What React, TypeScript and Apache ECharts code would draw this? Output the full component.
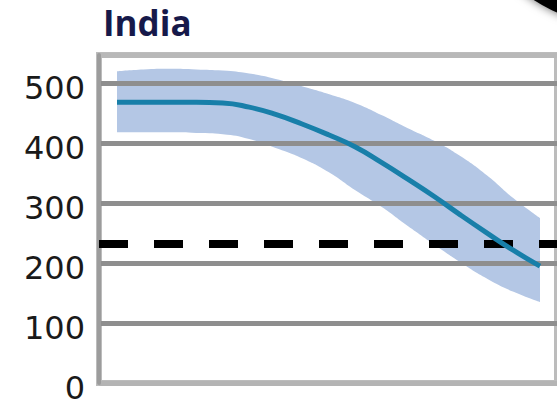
import React, { useEffect, useRef } from "react";
import * as echarts from "echarts";

const years = [
  "2010", "2012.5", "2015", "2017.5", "2020", "2022.5", "2025", "2027.5", "2030",
  "2032.5", "2035", "2037.5", "2040", "2042.5", "2045", "2047.5", "2050",
];
const central = [468, 468, 468, 468, 467, 460, 448, 432, 414, 394, 368, 340, 311, 280, 250, 221, 195];
const upper = [520, 523, 524, 523, 521, 516, 507, 495, 482, 467, 447, 425, 404, 378, 346, 308, 275];
const lower = [418, 418, 418, 417, 415, 407, 392, 375, 352, 322, 294, 262, 231, 201, 174, 152, 135];
const threshold = 232;
const yTicks = [0, 100, 200, 300, 400, 500];
const title = "India";

export default function App() {
  const ref = useRef<HTMLDivElement>(null);
  useEffect(() => {
    document.body.style.margin = "0";
    if (!ref.current) return;
    const chart = echarts.init(ref.current, undefined, { renderer: "svg" });
    const diff = upper.map((u, i) => u - lower[i]);
    const yMax = 547;
    chart.setOption({
      animation: false,
      backgroundColor: "#ffffff",
      title: {
        text: title,
        left: 98,
        top: 0,
        textStyle: {
          fontFamily: "Open Sans",
          fontWeight: 700,
          fontSize: 35,
          color: "#16194a",
        },
      },
      grid: [
        {
          left: 99,
          right: 0,
          top: 55,
          bottom: 16,
          show: true,
          borderColor: "#bcbcbc",
          borderWidth: 6,
          outerBoundsMode: "none",
          containLabel: false,
        },
        { left: 117, right: 17, top: 55, bottom: 16, outerBoundsMode: "none", containLabel: false },
      ],
      xAxis: [
        { type: "value", min: 0, max: 1, show: false, gridIndex: 0 },
        { type: "category", data: years, boundaryGap: false, show: false, gridIndex: 1 },
      ],
      yAxis: [
        {
          type: "value",
          gridIndex: 0,
          min: 0,
          max: yMax,
          interval: 100,
          z: 3,
          axisLine: { show: true, lineStyle: { color: "#9c9c9c", width: 4 } },
          axisTick: { show: false },
          splitLine: {
            show: true,
            lineStyle: {
              color: ["#b4b4b4", "#8e8e8e", "#8e8e8e", "#8e8e8e", "#8e8e8e", "#8e8e8e", "#b8b8b8"],
              width: 5,
            },
          },
          axisLabel: {
            margin: 14,
            fontFamily: "DejaVu Sans",
            fontSize: 32,
            color: "#1a1a1a",
            verticalAlign: "top",
            lineHeight: 10,
            showMaxLabel: false,
            formatter: (v: number) => (yTicks.includes(v) ? String(v) : ""),
          },
        },
        { type: "value", gridIndex: 1, min: 0, max: yMax, show: false },
      ],
      graphic: [
        {
          type: "circle",
          shape: { cx: 620, cy: -130, r: 156 },
          style: { fill: "#000000", shadowBlur: 10, shadowColor: "rgba(0,0,0,0.6)" },
          z: 10,
        },
      ],
      series: [
        {
          type: "line",
          xAxisIndex: 1,
          yAxisIndex: 1,
          data: lower,
          stack: "band",
          smooth: true,
          symbol: "none",
          lineStyle: { opacity: 0 },
          z: 1,
        },
        {
          type: "line",
          xAxisIndex: 1,
          yAxisIndex: 1,
          data: diff,
          stack: "band",
          smooth: true,
          symbol: "none",
          lineStyle: { opacity: 0 },
          areaStyle: { color: "#b4c7e5", opacity: 1 },
          z: 1,
        },
        {
          type: "line",
          xAxisIndex: 0,
          yAxisIndex: 0,
          data: [],
          z: 4,
          markLine: {
            silent: true,
            symbol: "none",
            label: { show: false },
            lineStyle: { color: "#000000", width: 8, type: [29, 26] },
            data: [{ yAxis: threshold }],
          },
        },
        {
          type: "line",
          xAxisIndex: 1,
          yAxisIndex: 1,
          data: central,
          smooth: true,
          symbol: "none",
          lineStyle: { color: "#187fa9", width: 5 },
          z: 5,
        },
      ],
    });
    return () => chart.dispose();
  }, []);
  return <div ref={ref} style={{ width: 557, height: 399 }} />;
}
